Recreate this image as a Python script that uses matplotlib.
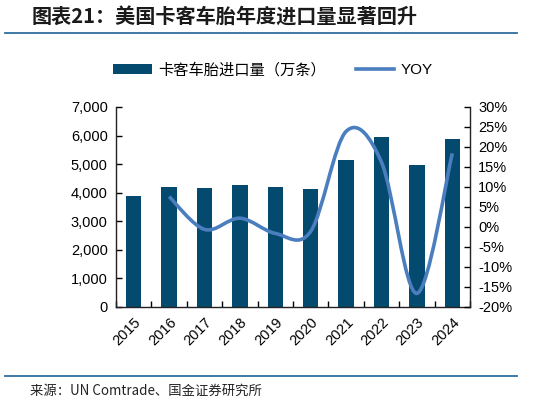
import numpy as np
import matplotlib
matplotlib.use("Agg")
import matplotlib.pyplot as plt
from matplotlib.path import Path
from matplotlib.patches import PathPatch, Patch
from matplotlib.lines import Line2D
from matplotlib.ticker import FuncFormatter, MultipleLocator

plt.rcParams['font.family'] = ['Liberation Sans', 'Noto Sans CJK SC', 'DejaVu Sans']

years = ['2015', '2016', '2017', '2018', '2019', '2020', '2021', '2022', '2023', '2024']
imports = [3895, 4190, 4165, 4258, 4190, 4142, 5133, 5962, 4970, 5880]
yoy = [np.nan, 7.6, -0.6, 2.2, -1.6, -1.1, 23.9, 16.2, -16.6, 18.4]

title = '图表21：美国卡客车胎年度进口量显著回升'
bar_label = '卡客车胎进口量（万条）'
line_label = 'YOY'
source = '来源：UN Comtrade、国金证券研究所'

BAR_C = '#034a6e'
LINE_C = '#4a7ebf'
RULE_C = '#2e6e9e'

fig = plt.figure(figsize=(5.59, 4.04), dpi=100)
ax = fig.add_axes([116/559, 1-307/404, (470-116)/559, 200/404])
ax2 = ax.twinx()

x = np.arange(len(years))
ax.bar(x, imports, width=0.43, color=BAR_C, zorder=2)
ax.set_xlim(-0.5, len(years)-0.5)
ax.set_ylim(0, 7000)
ax.yaxis.set_major_locator(MultipleLocator(1000))
ax.yaxis.set_major_formatter(FuncFormatter(lambda v, p: f'{int(v):,}'))
ax.set_xticks(x)
ax.set_xticklabels(years, rotation=45, ha='right', rotation_mode='anchor', fontsize=10.5)
ax.set_xticks(np.arange(-0.5, len(years)), minor=True)
ax.tick_params(axis='x', which='major', length=0, pad=6)
ax.tick_params(axis='x', which='minor', direction='in', length=4, width=1)
ax.tick_params(axis='y', direction='in', length=4, width=1, labelsize=10.5, pad=6)

# smooth YOY line (Catmull-Rom style bezier through the data points)
xs = [xi for xi, v in zip(x, yoy) if not np.isnan(v)]
ys = [v for v in yoy if not np.isnan(v)]
pts = np.column_stack([xs, ys]).astype(float)
n = len(pts)
verts = [tuple(pts[0])]
codes = [Path.MOVETO]
t = 1/6
for i in range(n-1):
    p0 = pts[i-1] if i > 0 else pts[i]
    p1 = pts[i]
    p2 = pts[i+1]
    p3 = pts[i+2] if i+2 < n else pts[i+1]
    c1 = p1 + (p2 - p0) * t
    c2 = p2 - (p3 - p1) * t
    verts += [tuple(c1), tuple(c2), tuple(p2)]
    codes += [Path.CURVE4]*3
ax2.add_patch(PathPatch(Path(verts, codes), fill=False, edgecolor=LINE_C, lw=2.6, capstyle='butt', zorder=3))
ax2.set_ylim(-20, 30)
ax2.yaxis.set_major_locator(MultipleLocator(5))
ax2.yaxis.set_major_formatter(FuncFormatter(lambda v, p: f'{int(round(v))}%'))
ax2.tick_params(axis='y', direction='in', length=4, width=1, labelsize=10.5, pad=6)

for a in (ax, ax2):
    a.spines['top'].set_visible(False)
    for s in ('left', 'right', 'bottom'):
        a.spines[s].set_linewidth(1)
        a.spines[s].set_color('#222222')
ax.spines['right'].set_visible(False)
ax2.spines['left'].set_visible(False)
ax2.spines['bottom'].set_visible(False)

handles = [Patch(facecolor=BAR_C, edgecolor='none'), Line2D([0], [0], color=LINE_C, lw=2.6)]
fig.legend(handles, [bar_label, line_label], loc='center', bbox_to_anchor=(273/559, 1-70/404),
           ncol=2, frameon=False, fontsize=11, handlelength=2.5, handleheight=0.7,
           columnspacing=2.0, handletextpad=0.4)

fig.text(32/559, 1-17/404, title, fontsize=14.5, fontweight='bold', color='#1a1a1a',
         family=['Noto Sans CJK SC', 'DejaVu Sans'], va='center', ha='left', style='italic')
fig.add_artist(Line2D([5/559, 517/559], [1-32.5/404, 1-32.5/404], color=RULE_C, lw=1.3))
fig.add_artist(Line2D([5/559, 517/559], [1-376/404, 1-376/404], color=RULE_C, lw=1.3))
fig.text(30/559, 1-391/404, source, fontsize=9.6, color='#222222',
         family=['Noto Sans CJK SC', 'DejaVu Sans'], va='center', ha='left')

fig.savefig('out.png', dpi=100)
